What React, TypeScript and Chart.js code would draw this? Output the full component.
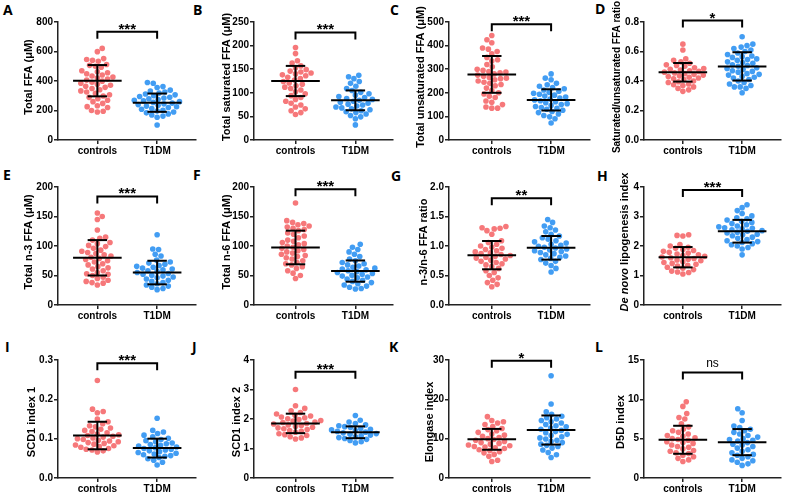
import React, { useEffect, useRef } from "react";
import { Chart, registerables } from "chart.js";
Chart.register(...registerables);

// ---------- data ----------
const categories = ["controls", "T1DM"];
const panelLetters = ["A", "B", "C", "D", "E", "F", "G", "H", "I", "J", "K", "L"];
const yTitles: { t: string; it?: boolean }[][] = [
  [{ t: "Total FFA (\u03bcM)" }],
  [{ t: "Total saturated FFA (\u03bcM)" }],
  [{ t: "Total unsaturated FFA (\u03bcM)" }],
  [{ t: "Saturated/unsaturated FFA ratio" }],
  [{ t: "Total n-3 FFA (\u03bcM)" }],
  [{ t: "Total n-6 FFA (\u03bcM)" }],
  [{ t: "n-3/n-6 FFA ratio" }],
  [{ t: "De novo", it: true }, { t: " lipogenesis index" }],
  [{ t: "SCD1 index 1" }],
  [{ t: "SCD1 index 2" }],
  [{ t: "Elongase index" }],
  [{ t: "D5D index" }],
];
const yMax = [800, 250, 500, 0.8, 200, 200, 2, 4, 0.3, 4, 30, 15];
const yStep = [200, 50, 100, 0.2, 50, 50, 0.5, 1, 0.1, 1, 10, 5];
const yDecimals = [0, 0, 0, 1, 0, 0, 1, 0, 1, 0, 0, 0];
const sigLabels = ["***", "***", "***", "*", "***", "***", "**", "***", "***", "***", "*", "ns"];
const bracketY = [734, 228, 490, 0.81, 184, 196, 1.81, 3.9, 0.2915, 3.6, 29.8, 13.4];

const aControls = [621, 599, 552, 546, 540, 534, 512, 506, 500, 494, 470, 463, 456, 449, 441, 434, 427, 420, 413, 406, 399, 392, 385, 378, 371, 364, 357, 349, 341, 333, 325, 316, 307, 298, 289, 280, 270, 260, 248, 232, 226, 220, 200, 195, 190];
const aT1DM = [390, 385, 362, 356, 338, 332, 325, 318, 312, 306, 300, 295, 290, 285, 280, 275, 270, 265, 260, 255, 250, 245, 240, 235, 230, 225, 220, 214, 208, 202, 196, 190, 184, 177, 170, 162, 154, 102];
const aMean = [402, 253];
const aSD = [106, 62];

const bControls = [196, 183, 168, 163, 157, 153, 149, 146, 144, 142, 140, 138, 136, 133, 130, 127, 124, 121, 118, 115, 112, 109, 106, 102, 98, 94, 90, 86, 82, 78, 74, 70, 66, 62, 58, 54];
const bT1DM = [137, 134, 130, 124, 120, 114, 109, 105, 101, 98, 95, 92, 90, 88, 86, 84, 82, 80, 78, 76, 74, 72, 70, 68, 66, 64, 62, 60, 58, 55, 52, 49, 45, 32];
const bMean = [125, 84];
const bSD = [32, 21];

const cControls = [443, 425, 412, 390, 385, 375, 365, 350, 340, 335, 320, 310, 300, 295, 290, 288, 285, 280, 275, 270, 265, 262, 260, 255, 250, 245, 240, 235, 230, 220, 210, 200, 195, 185, 180, 165, 160, 150, 140, 135, 135];
const cT1DM = [280, 262, 255, 240, 234, 228, 222, 217, 212, 207, 202, 198, 194, 190, 186, 182, 178, 174, 170, 166, 162, 158, 154, 150, 146, 142, 138, 134, 130, 126, 121, 116, 110, 104, 98, 90, 72];
const cMean = [278, 170];
const cSD = [78, 45];

const dControls = [0.65, 0.61, 0.55, 0.54, 0.53, 0.52, 0.51, 0.505, 0.5, 0.49, 0.485, 0.48, 0.475, 0.47, 0.465, 0.46, 0.455, 0.45, 0.445, 0.44, 0.435, 0.43, 0.425, 0.42, 0.415, 0.41, 0.4, 0.395, 0.39, 0.38, 0.375, 0.37, 0.36, 0.35, 0.34, 0.33];
const dT1DM = [0.7, 0.65, 0.64, 0.63, 0.62, 0.61, 0.6, 0.59, 0.58, 0.57, 0.565, 0.56, 0.55, 0.545, 0.54, 0.53, 0.525, 0.52, 0.51, 0.505, 0.5, 0.49, 0.485, 0.48, 0.47, 0.465, 0.46, 0.45, 0.445, 0.44, 0.43, 0.425, 0.42, 0.41, 0.4, 0.39, 0.38, 0.37, 0.36, 0.36, 0.35, 0.32];
const dMean = [0.459, 0.499];
const dSD = [0.063, 0.096];

const eControls = [156, 150, 145, 127, 115, 113, 110, 106, 104, 101, 99, 96, 93, 91, 89, 87, 85, 83, 81, 79, 77, 75, 73, 70, 68, 65, 63, 61, 58, 55, 53, 52, 50, 47, 45, 42, 40, 38, 37, 34];
const eT1DM = [119, 95, 94, 86, 83, 76, 73, 71, 69, 67, 65.5, 64, 62.5, 61, 59.5, 58, 56.5, 55, 53.5, 52, 50.5, 49, 47.5, 46, 44, 42, 40, 38, 36, 34, 32, 30, 28, 26];
const eMean = [80, 55];
const eSD = [30, 20];

const fControls = [173, 143, 140, 138, 136, 134, 132, 130, 128, 126, 122, 120, 117, 114, 110, 108, 106, 104, 102, 100, 98, 96, 94, 92, 90, 88, 86, 84, 82, 80, 78, 75, 72, 70, 68, 65, 62, 58, 54, 50, 45];
const fT1DM = [103, 98, 94, 90, 86, 82, 78, 75, 72, 70, 68, 66, 64, 62.5, 61, 59.5, 58, 56.5, 55, 53.5, 52, 50.5, 49, 47.5, 46, 44, 42, 40, 38, 36, 34, 32, 30, 28, 27];
const fMean = [97.5, 57.5];
const fSD = [28.5, 18];

const gControls = [1.33, 1.31, 1.3, 1.29, 1.26, 1.2, 1.09, 1.06, 1.03, 1.0, 0.98, 0.96, 0.94, 0.92, 0.9, 0.885, 0.87, 0.855, 0.84, 0.825, 0.81, 0.795, 0.78, 0.76, 0.74, 0.72, 0.7, 0.68, 0.65, 0.62, 0.58, 0.55, 0.5, 0.46, 0.42, 0.38, 0.35, 0.31];
const gT1DM = [1.45, 1.4, 1.34, 1.31, 1.27, 1.24, 1.2, 1.17, 1.14, 1.115, 1.09, 1.07, 1.05, 1.03, 1.01, 0.995, 0.98, 0.965, 0.95, 0.935, 0.92, 0.905, 0.89, 0.87, 0.85, 0.83, 0.81, 0.79, 0.77, 0.74, 0.71, 0.67, 0.62, 0.56];
const gMean = [0.845, 0.969];
const gSD = [0.24, 0.2];

const hControls = [2.38, 2.36, 2.34, 2.05, 2.0, 1.96, 1.92, 1.88, 1.85, 1.82, 1.79, 1.76, 1.73, 1.7, 1.675, 1.65, 1.625, 1.6, 1.575, 1.55, 1.525, 1.5, 1.47, 1.44, 1.41, 1.38, 1.35, 1.32, 1.28, 1.25, 1.2, 1.15, 1.12, 1.1, 1.05];
const hT1DM = [3.4, 3.3, 3.2, 3.1, 3.02, 2.96, 2.92, 2.88, 2.84, 2.8, 2.76, 2.72, 2.68, 2.65, 2.62, 2.6, 2.58, 2.55, 2.52, 2.5, 2.47, 2.44, 2.4, 2.38, 2.35, 2.3, 2.26, 2.22, 2.18, 2.15, 2.12, 2.08, 2.04, 2.0, 1.95, 1.9, 1.7];
const hMean = [1.62, 2.5];
const hSD = [0.345, 0.385];

const iControls = [0.248, 0.175, 0.169, 0.166, 0.15, 0.143, 0.138, 0.133, 0.13, 0.127, 0.124, 0.121, 0.118, 0.115, 0.112, 0.11, 0.108, 0.106, 0.104, 0.102, 0.1, 0.098, 0.096, 0.094, 0.092, 0.09, 0.088, 0.086, 0.084, 0.082, 0.08, 0.078, 0.075, 0.073, 0.071, 0.069, 0.066];
const iT1DM = [0.152, 0.121, 0.117, 0.113, 0.109, 0.105, 0.101, 0.098, 0.095, 0.092, 0.089, 0.087, 0.085, 0.083, 0.081, 0.079, 0.077, 0.075, 0.073, 0.071, 0.069, 0.067, 0.065, 0.063, 0.061, 0.059, 0.057, 0.055, 0.052, 0.049, 0.045, 0.04, 0.033];
const iMean = [0.108, 0.076];
const iSD = [0.035, 0.024];

const jControls = [3.0, 2.45, 2.36, 2.28, 2.22, 2.17, 2.13, 2.1, 2.07, 2.04, 2.01, 1.98, 1.95, 1.93, 1.9, 1.88, 1.85, 1.83, 1.8, 1.78, 1.75, 1.72, 1.7, 1.67, 1.64, 1.61, 1.58, 1.55, 1.5, 1.47, 1.44, 1.4, 1.36, 1.32];
const jT1DM = [2.12, 1.96, 1.9, 1.85, 1.8, 1.77, 1.74, 1.71, 1.68, 1.655, 1.63, 1.605, 1.58, 1.555, 1.53, 1.505, 1.48, 1.455, 1.43, 1.4, 1.37, 1.34, 1.31, 1.27, 1.23, 1.19];
const jMean = [1.85, 1.55];
const jSD = [0.33, 0.2];

const kControls = [15.6, 14.6, 14.3, 14.0, 13.6, 13.1, 12.6, 12.3, 12.0, 11.6, 11.2, 10.9, 10.6, 10.3, 10.0, 9.8, 9.6, 9.3, 9.0, 8.8, 8.6, 8.4, 8.2, 8.0, 7.9, 7.7, 7.5, 7.2, 7.0, 6.7, 6.4, 6.0, 5.5, 4.5, 4.2];
const kT1DM = [26.0, 18.8, 16.8, 16.2, 15.7, 15.3, 15.0, 14.6, 14.3, 14.0, 13.6, 13.3, 13.0, 12.7, 12.4, 12.1, 11.8, 11.5, 11.1, 10.8, 10.5, 10.2, 9.9, 9.6, 9.3, 9.0, 8.6, 8.3, 8.0, 7.6, 7.1, 6.5, 5.9, 5.2];
const kMean = [9.83, 12.2];
const kSD = [2.65, 3.7];

const lControls = [9.7, 9.1, 8.2, 7.7, 7.5, 6.9, 6.5, 6.2, 6.0, 5.8, 5.6, 5.4, 5.3, 5.1, 5.0, 4.9, 4.8, 4.6, 4.5, 4.4, 4.2, 4.0, 3.9, 3.7, 3.5, 3.4, 3.2, 3.1, 2.9, 2.7, 2.5, 2.3, 2.1];
const lT1DM = [8.8, 8.3, 7.3, 6.6, 6.4, 6.2, 6.0, 5.8, 5.6, 5.4, 5.2, 5.0, 4.9, 4.8, 4.7, 4.5, 4.3, 4.2, 4.0, 3.8, 3.6, 3.4, 3.2, 3.0, 2.9, 2.7, 2.5, 2.3, 2.2, 2.0, 1.8, 1.6];
const lMean = [4.86, 4.56];
const lSD = [1.78, 1.66];

const groupValues = [
  [aControls, aT1DM], [bControls, bT1DM], [cControls, cT1DM], [dControls, dT1DM],
  [eControls, eT1DM], [fControls, fT1DM], [gControls, gT1DM], [hControls, hT1DM],
  [iControls, iT1DM], [jControls, jT1DM], [kControls, kT1DM], [lControls, lT1DM],
];
const groupMeans = [aMean, bMean, cMean, dMean, eMean, fMean, gMean, hMean, iMean, jMean, kMean, lMean];
const groupSDs = [aSD, bSD, cSD, dSD, eSD, fSD, gSD, hSD, iSD, jSD, kSD, lSD];

// ---------- layout ----------
const FONT = '"Liberation Sans", Arial, sans-serif';
const COLS = [
  { axis: 58, c0: 98.5, c1: 160, end: 200 },
  { axis: 254, c0: 296.7, c1: 358.3, end: 397 },
  { axis: 449, c0: 493, c1: 554, end: 594 },
  { axis: 644, c0: 684, c1: 745, end: 785 },
];
const ROW_TOP = [0, 165, 338];
const ROW_TITLE_DY = [-4, -4, 3];
const CANVAS_H = 157;
const AREA_TOP = 22;
const AREA_BOTTOM = 140;
const TITLE_X = [29, 32, 31, 32, 29, 32, 34, 40, 32, 42, 40, 36];
const TITLE_SIZE = [11, 11, 11, 10, 11, 11, 11, 11, 11, 11, 11, 11];
const LETTER_POS = [
  [3, 5], [193, 5], [390, 5], [595, 4],
  [3, 170], [193, 170], [391, 171], [597, 171],
  [5, 342], [192, 342], [389, 342], [595, 342],
];
const COLORS = ["rgb(246,120,122)", "rgb(66,157,243)"];

function swarm(values: number[], pxPerUnit: number, diam: number): number[] {
  const idx = values.map((_, i) => i).sort((a, b) => values[a] - values[b]);
  const placed: { x: number; y: number }[] = [];
  const out = new Array(values.length).fill(0);
  let flip = 1;
  for (const i of idx) {
    const y = values[i] * pxPerUnit;
    const near = placed.filter((p) => Math.abs(p.y - y) < diam);
    let best = 0;
    for (let k = 0; k < 600; k++) {
      const mag = k * 0.5;
      const cands = mag === 0 ? [0] : [flip * mag, -flip * mag];
      let found: number | null = null;
      for (const c of cands) {
        if (near.every((p) => (p.x - c) ** 2 + (p.y - y) ** 2 >= diam * diam)) {
          found = c;
          break;
        }
      }
      if (found !== null) {
        best = found;
        break;
      }
    }
    if (best !== 0) flip = -flip;
    placed.push({ x: best, y });
    out[i] = best;
  }
  return out;
}

const yTitlePlugin = {
  id: "yTitleCustom",
  afterDraw(chart: any, _args: any, opts: any) {
    const { ctx, chartArea } = chart;
    const segs = opts.segments as { t: string; it?: boolean }[];
    ctx.save();
    ctx.translate(opts.x, (chartArea.top + chartArea.bottom) / 2 + opts.dy);
    ctx.rotate(-Math.PI / 2);
    ctx.textBaseline = "middle";
    ctx.textAlign = "left";
    ctx.fillStyle = "#000";
    const fonts = segs.map((s) => `${s.it ? "italic " : ""}bold ${opts.size}px ${FONT}`);
    let total = 0;
    const widths = segs.map((s, i) => {
      ctx.font = fonts[i];
      const w = ctx.measureText(s.t).width;
      total += w;
      return w;
    });
    let x = -total / 2;
    segs.forEach((s, i) => {
      ctx.font = fonts[i];
      ctx.fillText(s.t, x, 0);
      x += widths[i];
    });
    ctx.restore();
  },
};

const sigPlugin = {
  id: "sigText",
  afterDatasetsDraw(chart: any, _args: any, opts: any) {
    const { ctx } = chart;
    const xs = chart.scales.x;
    const ys = chart.scales.y;
    const cx = (xs.getPixelForValue(0) + xs.getPixelForValue(1)) / 2;
    const y = ys.getPixelForValue(opts.value);
    ctx.save();
    ctx.fillStyle = "#000";
    ctx.textAlign = "center";
    ctx.textBaseline = "alphabetic";
    if (opts.label.startsWith("*")) {
      ctx.font = `bold 15px ${FONT}`;
      ctx.fillText(opts.label, cx, y + 2);
    } else {
      ctx.font = `12px ${FONT}`;
      ctx.fillText(opts.label, cx, y - 6);
    }
    ctx.restore();
  },
};

function Panel({ index }: { index: number }) {
  const ref = useRef<HTMLCanvasElement | null>(null);
  const col = COLS[index % 4];
  const row = Math.floor(index / 4);
  const left = col.axis - 58;
  const width = Math.round(col.end - left);
  const top = ROW_TOP[row];

  useEffect(() => {
    if (!ref.current) return;
    const spacing = col.c1 - col.c0;
    const xMin = -(col.c0 - col.axis) / spacing;
    const xMax = 1 + (col.end - col.c1) / spacing;
    const ymax = yMax[index];
    const pxPerUnit = (AREA_BOTTOM - AREA_TOP) / ymax;
    const lineDs = (pts: { x: number; y: number }[]) => ({
      data: pts,
      showLine: true,
      borderColor: "#000",
      borderWidth: 2,
      pointRadius: 0,
      order: 0,
      clip: false as any,
    });
    const datasets: any[] = [];
    const meanHalf = 25 / spacing;
    const capHalf = 10 / spacing;
    for (let g = 0; g < 2; g++) {
      const m = groupMeans[index][g];
      const s = groupSDs[index][g];
      datasets.push(lineDs([{ x: g - meanHalf, y: m }, { x: g + meanHalf, y: m }]));
      datasets.push(lineDs([{ x: g, y: m - s }, { x: g, y: m + s }]));
      datasets.push(lineDs([{ x: g - capHalf, y: m + s }, { x: g + capHalf, y: m + s }]));
      datasets.push(lineDs([{ x: g - capHalf, y: m - s }, { x: g + capHalf, y: m - s }]));
    }
    const by = bracketY[index];
    const drop = 7 / pxPerUnit;
    datasets.push(
      lineDs([
        { x: 0, y: by - drop },
        { x: 0, y: by },
        { x: 1, y: by },
        { x: 1, y: by - drop },
      ])
    );
    for (let g = 0; g < 2; g++) {
      const vals = groupValues[index][g];
      const offs = swarm(vals, pxPerUnit, 5.8);
      datasets.push({
        data: vals.map((v, i) => ({ x: g + offs[i] / spacing, y: v })),
        backgroundColor: COLORS[g],
        borderWidth: 0,
        pointRadius: 2.8,
        order: 1,
        clip: false,
      });
    }
    const gridOpts = {
      display: true,
      drawOnChartArea: false,
      drawTicks: true,
      tickLength: 4,
      color: "#222",
      lineWidth: 1.5,
    };
    const borderOpts = { display: true, color: "#222", width: 1.5 };
    const tickFont = { family: FONT, size: 10, weight: "bold" as const };
    const chart = new Chart(ref.current, {
      type: "scatter",
      data: { datasets },
      plugins: [yTitlePlugin, sigPlugin],
      options: {
        animation: false,
        responsive: false,
        devicePixelRatio: 1,
        events: [],
        layout: { padding: { top: AREA_TOP, left: 0, right: 0, bottom: 0 } },
        plugins: {
          legend: { display: false },
          tooltip: { enabled: false },
          yTitleCustom: {
            segments: yTitles[index],
            x: TITLE_X[index] + (index % 4) * 195 - left,
            dy: ROW_TITLE_DY[row],
            size: TITLE_SIZE[index],
          },
          sigText: { value: by, label: sigLabels[index] },
        } as any,
        scales: {
          x: {
            type: "linear",
            min: xMin,
            max: xMax,
            afterBuildTicks: (s: any) => {
              s.ticks = [{ value: 0 }, { value: 1 }];
            },
            afterFit: (s: any) => {
              s.height = CANVAS_H - AREA_BOTTOM;
            },
            ticks: {
              color: "#000",
              font: tickFont,
              padding: 1,
              autoSkip: false,
              maxRotation: 0,
              callback: (v: any) => categories[Math.round(Number(v))],
            },
            grid: gridOpts,
            border: borderOpts,
          },
          y: {
            type: "linear",
            min: 0,
            max: ymax,
            afterFit: (s: any) => {
              s.width = 58;
            },
            ticks: {
              stepSize: yStep[index],
              color: "#000",
              font: tickFont,
              padding: 1,
              callback: (v: any) => Number(v).toFixed(yDecimals[index]),
            },
            grid: gridOpts,
            border: borderOpts,
          },
        },
      } as any,
    });
    return () => chart.destroy();
  }, [index]);

  return (
    <canvas
      ref={ref}
      width={width}
      height={CANVAS_H}
      style={{ position: "absolute", left, top, width, height: CANVAS_H }}
    />
  );
}

export default function App() {
  return (
    <div
      style={{
        position: "absolute",
        left: 0,
        top: 0,
        width: 789,
        height: 495,
        background: "#fff",
        overflow: "hidden",
      }}
    >
      {panelLetters.map((l, i) => (
        <div
          key={"l" + i}
          style={{
            position: "absolute",
            left: LETTER_POS[i][0],
            top: LETTER_POS[i][1] - 2.4,
            font: 'bold 14px "Open Sans", sans-serif',
            lineHeight: "14px",
            color: "#000",
          }}
        >
          {l}
        </div>
      ))}
      {panelLetters.map((_, i) => (
        <Panel key={"p" + i} index={i} />
      ))}
    </div>
  );
}
